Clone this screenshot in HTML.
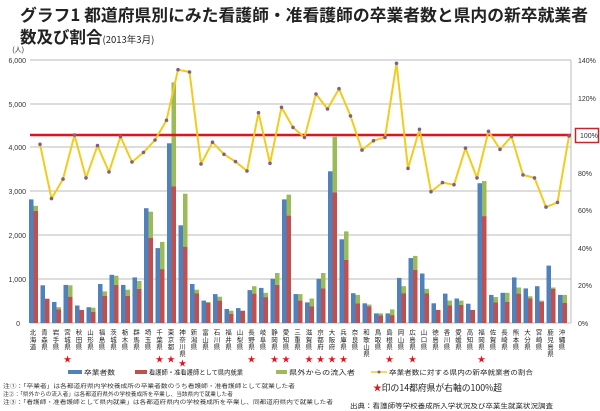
<!DOCTYPE html>
<html><head><meta charset="utf-8"><style>
html,body{margin:0;padding:0;background:#fff;}
#w{position:relative;width:600px;height:411px;overflow:hidden;font-family:"Liberation Sans","Noto Sans CJK JP",sans-serif;}
svg{position:absolute;left:0;top:0;}
.lb{position:absolute;top:329px;width:10px;font-size:6.5px;line-height:10px;text-align:center;color:#222;writing-mode:vertical-rl;text-orientation:upright;letter-spacing:0.6px;white-space:nowrap;font-family:"Noto Sans CJK JP",sans-serif;}
</style></head><body><div id="w">
<svg width="600" height="411" viewBox="0 0 600 411" font-family="Liberation Sans, Noto Sans CJK JP, sans-serif">
<text x="20" y="21" font-size="16.5" font-weight="bold" fill="#222" textLength="568" lengthAdjust="spacingAndGlyphs" font-family="Noto Sans CJK JP, sans-serif">グラフ1 都道府県別にみた看護師・准看護師の卒業者数と県内の新卒就業者</text>
<text x="20" y="43" font-size="16.5" font-weight="bold" fill="#222" font-family="Noto Sans CJK JP, sans-serif">数及び割合<tspan font-size="9.5" font-weight="normal">(2013年3月)</tspan></text>
<g stroke="#bbb" stroke-width="1">
<line x1="30" y1="60" x2="571" y2="60"/><line x1="30" y1="104" x2="571" y2="104"/><line x1="30" y1="147" x2="571" y2="147"/><line x1="30" y1="191" x2="571" y2="191"/><line x1="30" y1="235" x2="571" y2="235"/><line x1="30" y1="279" x2="571" y2="279"/><line x1="30" y1="323" x2="571" y2="323"/>
<line x1="571" y1="60" x2="571" y2="323"/>
</g>
<g font-size="7" fill="#333" text-anchor="end">
<text x="24" y="52">(人)</text><text x="26" y="63">6,000</text><text x="26" y="107">5,000</text><text x="26" y="150">4,000</text><text x="26" y="194">3,000</text><text x="26" y="238">2,000</text><text x="26" y="282">1,000</text><text x="20" y="326">0</text>
</g>
<g font-size="7" fill="#333">
<text x="578" y="63">140%</text><text x="578" y="101">120%</text><text x="580" y="138">100%</text><text x="578" y="176">80%</text><text x="578" y="213">60%</text><text x="578" y="251">40%</text><text x="578" y="288">20%</text><text x="578" y="326">0%</text>
</g>
<rect x="575.5" y="128.5" width="23" height="14" fill="none" stroke="#c0282d" stroke-width="1.5"/>
<g id="bars">
<rect x="29" y="199.4" width="4.5" height="123.6" fill="#4f81bd"/><rect x="33.5" y="205.8" width="4.5" height="5" fill="#9bbb59"/><rect x="33.5" y="210.8" width="4.5" height="112.2" fill="#c0504d"/>
<rect x="40.5" y="285.3" width="4.5" height="37.7" fill="#4f81bd"/><rect x="45" y="298.7" width="4.5" height="24.3" fill="#c0504d"/>
<rect x="52" y="302" width="4.5" height="21" fill="#4f81bd"/><rect x="56.5" y="307.2" width="4.5" height="2.2" fill="#9bbb59"/><rect x="56.5" y="309.4" width="4.5" height="13.6" fill="#c0504d"/>
<rect x="63.5" y="284.9" width="4.5" height="38.1" fill="#4f81bd"/><rect x="68" y="285.3" width="4.5" height="11.4" fill="#9bbb59"/><rect x="68" y="296.7" width="4.5" height="26.3" fill="#c0504d"/>
<rect x="75" y="305.5" width="4.5" height="17.5" fill="#4f81bd"/><rect x="79.5" y="309.9" width="4.5" height="13.1" fill="#c0504d"/>
<rect x="86.5" y="307.2" width="4.5" height="15.8" fill="#4f81bd"/><rect x="91" y="307.7" width="4.5" height="4.3" fill="#9bbb59"/><rect x="91" y="312" width="4.5" height="11" fill="#c0504d"/>
<rect x="98" y="284" width="4.5" height="39" fill="#4f81bd"/><rect x="102.5" y="291.4" width="4.5" height="4.4" fill="#9bbb59"/><rect x="102.5" y="295.8" width="4.5" height="27.2" fill="#c0504d"/>
<rect x="109.5" y="274.8" width="4.5" height="48.2" fill="#4f81bd"/><rect x="114" y="275.7" width="4.5" height="9.2" fill="#9bbb59"/><rect x="114" y="284.9" width="4.5" height="38.1" fill="#c0504d"/>
<rect x="121" y="284.9" width="4.5" height="38.1" fill="#4f81bd"/><rect x="125.5" y="289.7" width="4.5" height="6.1" fill="#9bbb59"/><rect x="125.5" y="295.8" width="4.5" height="27.2" fill="#c0504d"/>
<rect x="132.5" y="277.4" width="4.5" height="45.6" fill="#4f81bd"/><rect x="137" y="280.9" width="4.5" height="7.9" fill="#9bbb59"/><rect x="137" y="288.8" width="4.5" height="34.2" fill="#c0504d"/>
<rect x="144" y="208.2" width="4.5" height="114.8" fill="#4f81bd"/><rect x="148.5" y="211.7" width="4.5" height="26.3" fill="#9bbb59"/><rect x="148.5" y="238" width="4.5" height="85" fill="#c0504d"/>
<rect x="155.5" y="248.1" width="4.5" height="74.9" fill="#4f81bd"/><rect x="160" y="241.9" width="4.5" height="27.2" fill="#9bbb59"/><rect x="160" y="269.1" width="4.5" height="53.9" fill="#c0504d"/>
<rect x="167" y="143.3" width="4.5" height="179.7" fill="#4f81bd"/><rect x="171.5" y="82.4" width="4.5" height="103.9" fill="#9bbb59"/><rect x="171.5" y="186.3" width="4.5" height="136.7" fill="#c0504d"/>
<rect x="178.5" y="225.3" width="4.5" height="97.7" fill="#4f81bd"/><rect x="183" y="193.7" width="4.5" height="53" fill="#9bbb59"/><rect x="183" y="246.7" width="4.5" height="76.3" fill="#c0504d"/>
<rect x="190" y="284" width="4.5" height="39" fill="#4f81bd"/><rect x="194.5" y="289.7" width="4.5" height="3.5" fill="#9bbb59"/><rect x="194.5" y="293.2" width="4.5" height="29.8" fill="#c0504d"/>
<rect x="201.5" y="300.6" width="4.5" height="22.4" fill="#4f81bd"/><rect x="206" y="302" width="4.5" height="0.8" fill="#9bbb59"/><rect x="206" y="302.8" width="4.5" height="20.2" fill="#c0504d"/>
<rect x="213" y="294.1" width="4.5" height="28.9" fill="#4f81bd"/><rect x="217.5" y="296.7" width="4.5" height="3.9" fill="#9bbb59"/><rect x="217.5" y="300.6" width="4.5" height="22.4" fill="#c0504d"/>
<rect x="224.5" y="309" width="4.5" height="14" fill="#4f81bd"/><rect x="229" y="310.7" width="4.5" height="3.1" fill="#9bbb59"/><rect x="229" y="313.8" width="4.5" height="9.2" fill="#c0504d"/>
<rect x="236" y="308.1" width="4.5" height="14.9" fill="#4f81bd"/><rect x="240.5" y="310.7" width="4.5" height="12.3" fill="#c0504d"/>
<rect x="247.5" y="290.1" width="4.5" height="32.9" fill="#4f81bd"/><rect x="252" y="286.2" width="4.5" height="7.4" fill="#9bbb59"/><rect x="252" y="293.6" width="4.5" height="29.4" fill="#c0504d"/>
<rect x="259" y="287.9" width="4.5" height="35.1" fill="#4f81bd"/><rect x="263.5" y="292.8" width="4.5" height="4.3" fill="#9bbb59"/><rect x="263.5" y="297.1" width="4.5" height="25.9" fill="#c0504d"/>
<rect x="270.5" y="278.7" width="4.5" height="44.3" fill="#4f81bd"/><rect x="275" y="273" width="4.5" height="11.9" fill="#9bbb59"/><rect x="275" y="284.9" width="4.5" height="38.1" fill="#c0504d"/>
<rect x="282" y="199.4" width="4.5" height="123.6" fill="#4f81bd"/><rect x="286.5" y="194.6" width="4.5" height="21" fill="#9bbb59"/><rect x="286.5" y="215.6" width="4.5" height="107.4" fill="#c0504d"/>
<rect x="293.5" y="294.1" width="4.5" height="28.9" fill="#4f81bd"/><rect x="298" y="294.1" width="4.5" height="6.5" fill="#9bbb59"/><rect x="298" y="300.6" width="4.5" height="22.4" fill="#c0504d"/>
<rect x="305" y="302.4" width="4.5" height="20.6" fill="#4f81bd"/><rect x="309.5" y="298.5" width="4.5" height="7.8" fill="#9bbb59"/><rect x="309.5" y="306.3" width="4.5" height="16.7" fill="#c0504d"/>
<rect x="316.5" y="278.7" width="4.5" height="44.3" fill="#4f81bd"/><rect x="321" y="273" width="4.5" height="15.4" fill="#9bbb59"/><rect x="321" y="288.4" width="4.5" height="34.6" fill="#c0504d"/>
<rect x="328" y="171.3" width="4.5" height="151.7" fill="#4f81bd"/><rect x="332.5" y="136.7" width="4.5" height="55.7" fill="#9bbb59"/><rect x="332.5" y="192.4" width="4.5" height="130.6" fill="#c0504d"/>
<rect x="339.5" y="239.3" width="4.5" height="83.7" fill="#4f81bd"/><rect x="344" y="231.4" width="4.5" height="28.5" fill="#9bbb59"/><rect x="344" y="259.9" width="4.5" height="63.1" fill="#c0504d"/>
<rect x="351" y="293.2" width="4.5" height="29.8" fill="#4f81bd"/><rect x="355.5" y="294.9" width="4.5" height="8.4" fill="#9bbb59"/><rect x="355.5" y="303.3" width="4.5" height="19.7" fill="#c0504d"/>
<rect x="362.5" y="303.3" width="4.5" height="19.7" fill="#4f81bd"/><rect x="367" y="304.6" width="4.5" height="1.7" fill="#9bbb59"/><rect x="367" y="306.3" width="4.5" height="16.7" fill="#c0504d"/>
<rect x="374" y="313.4" width="4.5" height="9.6" fill="#4f81bd"/><rect x="378.5" y="313.4" width="4.5" height="2.1" fill="#9bbb59"/><rect x="378.5" y="315.5" width="4.5" height="7.5" fill="#c0504d"/>
<rect x="385.5" y="313.4" width="4.5" height="9.6" fill="#4f81bd"/><rect x="390" y="309.4" width="4.5" height="5.7" fill="#9bbb59"/><rect x="390" y="315.1" width="4.5" height="7.9" fill="#c0504d"/>
<rect x="397" y="277.9" width="4.5" height="45.1" fill="#4f81bd"/><rect x="401.5" y="286.2" width="4.5" height="7" fill="#9bbb59"/><rect x="401.5" y="293.2" width="4.5" height="29.8" fill="#c0504d"/>
<rect x="408.5" y="258.1" width="4.5" height="64.9" fill="#4f81bd"/><rect x="413" y="255.9" width="4.5" height="14.1" fill="#9bbb59"/><rect x="413" y="270" width="4.5" height="53" fill="#c0504d"/>
<rect x="420" y="273.5" width="4.5" height="49.5" fill="#4f81bd"/><rect x="424.5" y="288.8" width="4.5" height="4.4" fill="#9bbb59"/><rect x="424.5" y="293.2" width="4.5" height="29.8" fill="#c0504d"/>
<rect x="431.5" y="303.3" width="4.5" height="19.7" fill="#4f81bd"/><rect x="436" y="309.9" width="4.5" height="13.1" fill="#c0504d"/>
<rect x="443" y="293.6" width="4.5" height="29.4" fill="#4f81bd"/><rect x="447.5" y="300.6" width="4.5" height="4.9" fill="#9bbb59"/><rect x="447.5" y="305.5" width="4.5" height="17.5" fill="#c0504d"/>
<rect x="454.5" y="298.5" width="4.5" height="24.5" fill="#4f81bd"/><rect x="459" y="300.6" width="4.5" height="4.4" fill="#9bbb59"/><rect x="459" y="305" width="4.5" height="18" fill="#c0504d"/>
<rect x="466" y="303.7" width="4.5" height="19.3" fill="#4f81bd"/><rect x="470.5" y="309.9" width="4.5" height="13.1" fill="#c0504d"/>
<rect x="477.5" y="183.2" width="4.5" height="139.8" fill="#4f81bd"/><rect x="482" y="181" width="4.5" height="35.1" fill="#9bbb59"/><rect x="482" y="216.1" width="4.5" height="106.9" fill="#c0504d"/>
<rect x="489" y="294.9" width="4.5" height="28.1" fill="#4f81bd"/><rect x="493.5" y="297.1" width="4.5" height="5.3" fill="#9bbb59"/><rect x="493.5" y="302.4" width="4.5" height="20.6" fill="#c0504d"/>
<rect x="500.5" y="292.8" width="4.5" height="30.2" fill="#4f81bd"/><rect x="505" y="292.8" width="4.5" height="9.2" fill="#9bbb59"/><rect x="505" y="302" width="4.5" height="21" fill="#c0504d"/>
<rect x="512" y="277.4" width="4.5" height="45.6" fill="#4f81bd"/><rect x="516.5" y="287.5" width="4.5" height="6.1" fill="#9bbb59"/><rect x="516.5" y="293.6" width="4.5" height="29.4" fill="#c0504d"/>
<rect x="523.5" y="288.4" width="4.5" height="34.6" fill="#4f81bd"/><rect x="528" y="296.3" width="4.5" height="2.2" fill="#9bbb59"/><rect x="528" y="298.5" width="4.5" height="24.5" fill="#c0504d"/>
<rect x="535" y="286.2" width="4.5" height="36.8" fill="#4f81bd"/><rect x="539.5" y="300.6" width="4.5" height="1.4" fill="#9bbb59"/><rect x="539.5" y="302" width="4.5" height="21" fill="#c0504d"/>
<rect x="546.5" y="265.6" width="4.5" height="57.4" fill="#4f81bd"/><rect x="551" y="287.5" width="4.5" height="1.3" fill="#9bbb59"/><rect x="551" y="288.8" width="4.5" height="34.2" fill="#c0504d"/>
<rect x="558" y="294.9" width="4.5" height="28.1" fill="#4f81bd"/><rect x="562.5" y="294.9" width="4.5" height="7.9" fill="#9bbb59"/><rect x="562.5" y="302.8" width="4.5" height="20.2" fill="#c0504d"/>
</g>
<line x1="30" y1="135" x2="571" y2="135" stroke="#e0141e" stroke-width="2.5"/>
<polyline fill="none" stroke="#f2cc1c" stroke-width="2" stroke-linejoin="round" points="40,144.3 51.5,198.6 63,179.1 74.5,135.1 86,177.9 97.5,145.6 109,171.9 120.5,136.6 132,162 143.5,152.4 155,140 166.5,120.3 178,69.7 189.5,72 201,164 212.5,142.2 224,154.3 235.5,161.6 247,171 258.5,112.7 270,163.3 281.5,107.3 293,127.4 304.5,137.4 316,94 327.5,109 339,88.7 350.5,115.9 362,150.1 373.5,140.7 385,137.4 396.5,63.3 408,168.4 419.5,129.3 431,191.7 442.5,182.6 454,184.7 465.5,148.1 477,177.9 488.5,131.3 500,149.4 511.5,136.4 523,174.9 534.5,177.9 546,207.1 557.5,202.4 569,136"/>
<g fill="#7f6084">
<circle cx="40" cy="144.3" r="1.8"/><circle cx="51.5" cy="198.6" r="1.8"/><circle cx="63" cy="179.1" r="1.8"/><circle cx="74.5" cy="135.1" r="1.8"/><circle cx="86" cy="177.9" r="1.8"/><circle cx="97.5" cy="145.6" r="1.8"/><circle cx="109" cy="171.9" r="1.8"/><circle cx="120.5" cy="136.6" r="1.8"/><circle cx="132" cy="162" r="1.8"/><circle cx="143.5" cy="152.4" r="1.8"/><circle cx="155" cy="140" r="1.8"/><circle cx="166.5" cy="120.3" r="1.8"/><circle cx="178" cy="69.7" r="1.8"/><circle cx="189.5" cy="72" r="1.8"/><circle cx="201" cy="164" r="1.8"/><circle cx="212.5" cy="142.2" r="1.8"/><circle cx="224" cy="154.3" r="1.8"/><circle cx="235.5" cy="161.6" r="1.8"/><circle cx="247" cy="171" r="1.8"/><circle cx="258.5" cy="112.7" r="1.8"/><circle cx="270" cy="163.3" r="1.8"/><circle cx="281.5" cy="107.3" r="1.8"/><circle cx="293" cy="127.4" r="1.8"/><circle cx="304.5" cy="137.4" r="1.8"/><circle cx="316" cy="94" r="1.8"/><circle cx="327.5" cy="109" r="1.8"/><circle cx="339" cy="88.7" r="1.8"/><circle cx="350.5" cy="115.9" r="1.8"/><circle cx="362" cy="150.1" r="1.8"/><circle cx="373.5" cy="140.7" r="1.8"/><circle cx="385" cy="137.4" r="1.8"/><circle cx="396.5" cy="63.3" r="1.8"/><circle cx="408" cy="168.4" r="1.8"/><circle cx="419.5" cy="129.3" r="1.8"/><circle cx="431" cy="191.7" r="1.8"/><circle cx="442.5" cy="182.6" r="1.8"/><circle cx="454" cy="184.7" r="1.8"/><circle cx="465.5" cy="148.1" r="1.8"/><circle cx="477" cy="177.9" r="1.8"/><circle cx="488.5" cy="131.3" r="1.8"/><circle cx="500" cy="149.4" r="1.8"/><circle cx="511.5" cy="136.4" r="1.8"/><circle cx="523" cy="174.9" r="1.8"/><circle cx="534.5" cy="177.9" r="1.8"/><circle cx="546" cy="207.1" r="1.8"/><circle cx="557.5" cy="202.4" r="1.8"/><circle cx="569" cy="136" r="1.8"/>
</g>
<g fill="#e0141e" font-size="8" text-anchor="middle">
<text x="67.5" y="362">★</text><text x="159.5" y="362">★</text><text x="171" y="362">★</text><text x="182.5" y="366">★</text><text x="251.5" y="362">★</text><text x="274.5" y="362">★</text><text x="286" y="362">★</text><text x="309" y="362">★</text><text x="320.5" y="362">★</text><text x="332" y="362">★</text><text x="343.5" y="362">★</text><text x="389.5" y="362">★</text><text x="412.5" y="362">★</text><text x="481.5" y="362">★</text>
</g>
<g font-size="6.5" fill="#222" font-family="Noto Sans CJK JP, sans-serif">
<rect x="68" y="370" width="14" height="4" fill="#4f81bd"/><text x="84" y="374.5" textLength="31" lengthAdjust="spacingAndGlyphs">卒業者数</text>
<rect x="135" y="370" width="12" height="4" fill="#c0504d"/><text x="149" y="374.5" textLength="94" lengthAdjust="spacingAndGlyphs">看護師・准看護師として県内就業</text>
<rect x="276" y="370" width="11" height="4" fill="#9bbb59"/><text x="289" y="374.5" textLength="66" lengthAdjust="spacingAndGlyphs">県外からの流入者</text>
<line x1="371" y1="372" x2="387" y2="372" stroke="#f2cc1c" stroke-width="1.5"/><circle cx="379" cy="372" r="1.5" fill="#7f6084"/><text x="389" y="374.5" textLength="144" lengthAdjust="spacingAndGlyphs">卒業者数に対する県内の新卒就業者の割合</text>
</g>
<g font-size="5.5" fill="#333" font-family="Noto Sans CJK JP, sans-serif">
<text x="3" y="388" textLength="292" lengthAdjust="spacingAndGlyphs">注①：「卒業者」は各都道府県内学校養成所の卒業者数のうち看護師・准看護師として就業した者</text>
<text x="3" y="396" textLength="230" lengthAdjust="spacingAndGlyphs">注②：「県外からの流入者」は各都道府県外の学校養成所を卒業し、当該県内で就業した者</text>
<text x="3" y="404" textLength="330" lengthAdjust="spacingAndGlyphs">注③：「看護師・准看護師として県内就業」は各都道府県内の学校養成所を卒業し、同都道府県内で就業した者</text>
</g>
<text x="373" y="391" font-size="9" fill="#222" textLength="129" lengthAdjust="spacingAndGlyphs" font-family="Noto Sans CJK JP, sans-serif"><tspan fill="#e0141e">★</tspan>印の14都府県が右軸の100%超</text>
<text x="350" y="408" font-size="6.5" fill="#222" textLength="203" lengthAdjust="spacingAndGlyphs" font-family="Noto Sans CJK JP, sans-serif">出典：看護師等学校養成所入学状況及び卒業生就業状況調査</text>
</svg>
<div class="lb" style="left:28px">北海道</div><div class="lb" style="left:39.5px">青森県</div><div class="lb" style="left:51px">岩手県</div><div class="lb" style="left:62.5px">宮城県</div><div class="lb" style="left:74px">秋田県</div><div class="lb" style="left:85.5px">山形県</div><div class="lb" style="left:97px">福島県</div><div class="lb" style="left:108.5px">茨城県</div><div class="lb" style="left:120px">栃木県</div><div class="lb" style="left:131.5px">群馬県</div><div class="lb" style="left:143px">埼玉県</div><div class="lb" style="left:154.5px">千葉県</div><div class="lb" style="left:166px">東京都</div><div class="lb" style="left:177.5px">神奈川県</div><div class="lb" style="left:189px">新潟県</div><div class="lb" style="left:200.5px">富山県</div><div class="lb" style="left:212px">石川県</div><div class="lb" style="left:223.5px">福井県</div><div class="lb" style="left:235px">山梨県</div><div class="lb" style="left:246.5px">長野県</div><div class="lb" style="left:258px">岐阜県</div><div class="lb" style="left:269.5px">静岡県</div><div class="lb" style="left:281px">愛知県</div><div class="lb" style="left:292.5px">三重県</div><div class="lb" style="left:304px">滋賀県</div><div class="lb" style="left:315.5px">京都府</div><div class="lb" style="left:327px">大阪府</div><div class="lb" style="left:338.5px">兵庫県</div><div class="lb" style="left:350px">奈良県</div><div class="lb" style="left:361.5px">和歌山県</div><div class="lb" style="left:373px">鳥取県</div><div class="lb" style="left:384.5px">島根県</div><div class="lb" style="left:396px">岡山県</div><div class="lb" style="left:407.5px">広島県</div><div class="lb" style="left:419px">山口県</div><div class="lb" style="left:430.5px">徳島県</div><div class="lb" style="left:442px">香川県</div><div class="lb" style="left:453.5px">愛媛県</div><div class="lb" style="left:465px">高知県</div><div class="lb" style="left:476.5px">福岡県</div><div class="lb" style="left:488px">佐賀県</div><div class="lb" style="left:499.5px">長崎県</div><div class="lb" style="left:511px">熊本県</div><div class="lb" style="left:522.5px">大分県</div><div class="lb" style="left:534px">宮崎県</div><div class="lb" style="left:545.5px">鹿児島県</div><div class="lb" style="left:557px">沖縄県</div>
</div></body></html>
